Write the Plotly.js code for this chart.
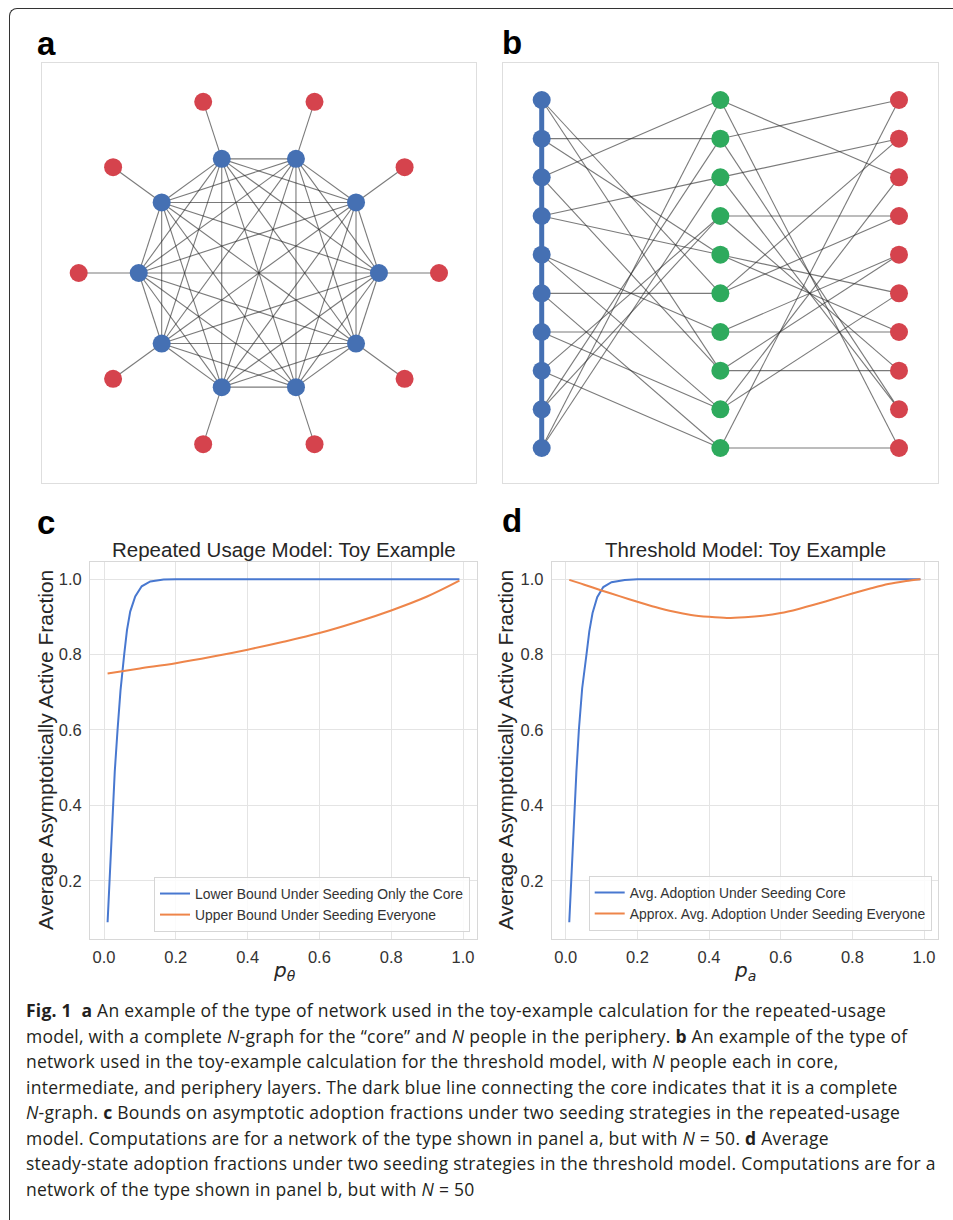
<!DOCTYPE html>
<html><head><meta charset="utf-8">
<script src="https://cdn.plot.ly/plotly-3.0.1.min.js"></script>
<style>
html,body{margin:0;padding:0;background:#fff;}
#wrap{position:relative;width:953px;height:1220px;overflow:hidden;background:#fff;}
#chart{position:absolute;left:0;top:0;width:953px;height:1220px;}
#frame{position:absolute;left:9px;top:8px;width:1000px;height:1300px;border-top:1.5px solid #333;border-left:1.5px solid #333;border-top-left-radius:8px;pointer-events:none;}
#caption{position:absolute;left:26px;top:998px;font-family:"Open Sans","Noto Sans",Lato,sans-serif;font-size:17.5px;letter-spacing:0.25px;line-height:25.5px;color:#231f20;white-space:nowrap;}
#caption b{font-weight:700;}
</style></head>
<body>
<div id="wrap">
<div id="chart"></div>
<div id="frame"></div>
<div id="caption">
<b>Fig. 1</b>&nbsp; <b>a</b> An example of the type of network used in the toy-example calculation for the repeated-usage<br>
model, with a complete <i>N</i>-graph for the “core” and <i>N</i> people in the periphery. <b>b</b> An example of the type of<br>
network used in the toy-example calculation for the threshold model, with <i>N</i> people each in core,<br>
intermediate, and periphery layers. The dark blue line connecting the core indicates that it is a complete<br>
<i>N</i>-graph. <b>c</b> Bounds on asymptotic adoption fractions under two seeding strategies in the repeated-usage<br>
model. Computations are for a network of the type shown in panel a, but with <i>N</i> = 50. <b>d</b> Average<br>
steady-state adoption fractions under two seeding strategies in the threshold model. Computations are for a<br>
network of the type shown in panel b, but with <i>N</i> = 50
</div>
</div>
<script>
// ---------------- data ----------------
var coreCount = 10;            // panel a: complete N-graph core, one periphery node per core node
var layerSize = 10;            // panel b: nodes per layer
var coreToMid = [[0,5],[0,7],[1,1],[1,4],[2,0],[2,7],[3,2],[3,4],[4,6],[4,8],
                 [5,5],[5,9],[6,6],[6,8],[7,9],[7,3],[8,1],[8,3],[9,0],[9,2]];
var midToPeri = [[0,2],[0,9],[1,0],[1,8],[2,1],[2,8],[3,3],[3,7],[4,5],[4,6],
                 [5,1],[5,3],[6,4],[6,6],[7,7],[7,4],[8,2],[8,5],[9,0],[9,9]];

var cCoreX = [0.01,0.0155,0.02,0.0247,0.03,0.0377,0.046,0.0562,0.064,0.073,0.087,0.105,0.129,0.166,0.2,0.4,0.6,0.8,0.99];
var cCoreY = [0.09,0.2,0.3,0.4,0.49,0.6,0.705,0.8,0.865,0.914,0.954,0.981,0.994,0.999,1.0,1.0,1.0,1.0,1.0];
var cAllX  = [0.01,0.1,0.2,0.3,0.4,0.5,0.6,0.7,0.8,0.9,0.99];
var cAllY  = [0.750,0.763,0.777,0.794,0.813,0.834,0.857,0.885,0.917,0.954,0.996];

var dCoreX = [0.01,0.0154,0.02,0.0247,0.03,0.0368,0.046,0.058,0.066,0.075,0.088,0.105,0.128,0.165,0.2,0.4,0.6,0.8,0.99];
var dCoreY = [0.09,0.2,0.3,0.4,0.49,0.6,0.71,0.8,0.862,0.91,0.952,0.979,0.992,0.998,1.0,1.0,1.0,1.0,1.0];
var dAllX  = [0.01,0.05,0.1,0.15,0.2,0.25,0.3,0.35,0.4,0.45,0.5,0.55,0.6,0.65,0.7,0.75,0.8,0.85,0.9,0.95,0.99];
var dAllY  = [0.998,0.986,0.970,0.955,0.940,0.926,0.914,0.905,0.900,0.897,0.899,0.903,0.910,0.921,0.934,0.948,0.962,0.975,0.987,0.995,1.0];

var tickVals = [0,0.2,0.4,0.6,0.8,1.0];
var yTickVals = [0.2,0.4,0.6,0.8,1.0];
var cNames = ['Lower Bound Under Seeding Only the Core','Upper Bound Under Seeding Everyone'];
var dNames = ['Avg. Adoption Under Seeding Core','Approx. Avg. Adoption Under Seeding Everyone'];

// ---------------- build ----------------
var W = 953, H = 1220;
var BLUE = '#4570b3', RED = '#d5434d', GREEN = '#2eaa5d';
var LBLUE = '#4878d0', LORANGE = '#ee854a';
var EDGE = 'rgba(40,40,40,0.62)';

// panel a circular layout
var cx = [], cy = [], px = [], py = [];
for (var k = 0; k < coreCount; k++) {
  var t = 2*Math.PI*k/coreCount;
  cx.push(Math.cos(t)); cy.push(Math.sin(t));
  px.push(1.5*Math.cos(t)); py.push(1.5*Math.sin(t));
}
var ax = [], ay = [];
for (var i = 0; i < coreCount; i++) {
  for (var j = i+1; j < coreCount; j++) { ax.push(cx[i], cx[j], null); ay.push(cy[i], cy[j], null); }
  ax.push(cx[i], px[i], null); ay.push(cy[i], py[i], null);
}
// panel b layered layout
var rows = []; for (var r = 0; r < layerSize; r++) rows.push(r);
function col(v){ var a=[]; for (var r=0;r<layerSize;r++) a.push(v); return a; }
var bx = [], by = [];
coreToMid.forEach(function(e){ bx.push(0,1,null); by.push(e[0],e[1],null); });
midToPeri.forEach(function(e){ bx.push(1,2,null); by.push(e[0],e[1],null); });

var traces = [
  {x:ax, y:ay, xaxis:'x', yaxis:'y', mode:'lines', line:{color:EDGE,width:1.1}, hoverinfo:'skip', showlegend:false},
  {x:px, y:py, xaxis:'x', yaxis:'y', mode:'markers', marker:{color:RED,size:18}, showlegend:false},
  {x:cx, y:cy, xaxis:'x', yaxis:'y', mode:'markers', marker:{color:BLUE,size:18}, showlegend:false},
  {x:bx, y:by, xaxis:'x2', yaxis:'y2', mode:'lines', line:{color:EDGE,width:1.1}, hoverinfo:'skip', showlegend:false},
  {x:[0,0], y:[0,layerSize-1], xaxis:'x2', yaxis:'y2', mode:'lines', line:{color:BLUE,width:5}, showlegend:false},
  {x:col(0), y:rows, xaxis:'x2', yaxis:'y2', mode:'markers', marker:{color:BLUE,size:18}, showlegend:false},
  {x:col(1), y:rows, xaxis:'x2', yaxis:'y2', mode:'markers', marker:{color:GREEN,size:18}, showlegend:false},
  {x:col(2), y:rows, xaxis:'x2', yaxis:'y2', mode:'markers', marker:{color:RED,size:18}, showlegend:false},
  {x:cCoreX, y:cCoreY, xaxis:'x3', yaxis:'y3', mode:'lines', name:cNames[0], line:{color:LBLUE,width:2}, legend:'legend'},
  {x:cAllX, y:cAllY, xaxis:'x3', yaxis:'y3', mode:'lines', name:cNames[1], line:{color:LORANGE,width:2, shape:'spline'}, legend:'legend'},
  {x:dCoreX, y:dCoreY, xaxis:'x4', yaxis:'y4', mode:'lines', name:dNames[0], line:{color:LBLUE,width:2}, legend:'legend2'},
  {x:dAllX, y:dAllY, xaxis:'x4', yaxis:'y4', mode:'lines', name:dNames[1], line:{color:LORANGE,width:2, shape:'spline', smoothing:0.8}, legend:'legend2'}
];

function px2x(p){ return p/W; }
function px2y(p){ return 1 - p/H; }
var FONT = 'Liberation Sans, Arial, sans-serif';

function netAxis(dom, range, anchor){
  return {domain:dom, range:range, anchor:anchor, showline:true, mirror:true, linecolor:'#dedede', linewidth:1,
          showgrid:false, zeroline:false, showticklabels:false, ticks:'', fixedrange:true};
}
function plotX(dom, anchor){
  return {domain:dom, anchor:anchor, range:[-0.039,1.039], tickvals:tickVals, tickformat:'.1f',
          showline:true, mirror:true, linecolor:'#d8d8d8', linewidth:1, showgrid:true, gridcolor:'#e4e4e4', gridwidth:1,
          zeroline:false, ticks:'outside', ticklen:3, tickcolor:'rgba(0,0,0,0)',
          tickfont:{family:FONT, size:16.5, color:'#333'}};
}
function plotY(dom, anchor){
  return {domain:dom, anchor:anchor, range:[0.0455,1.0455], tickvals:yTickVals, tickformat:'.1f',
          showline:true, mirror:true, linecolor:'#d8d8d8', linewidth:1, showgrid:true, gridcolor:'#e4e4e4', gridwidth:1,
          zeroline:false, ticks:'outside', ticklen:4, tickcolor:'rgba(0,0,0,0)',
          tickfont:{family:FONT, size:16.5, color:'#333'}};
}
function legendAt(xr, yb){
  return {x:px2x(xr), y:px2y(yb), xanchor:'right', yanchor:'bottom', xref:'paper', yref:'paper',
          bgcolor:'rgba(255,255,255,0.85)', bordercolor:'#d6d6d6', borderwidth:1,
          font:{family:FONT, size:13.9, color:'#333'}, tracegroupgap:0};
}
function ann(text, xp, yp, opt){
  var a = {text:text, x:px2x(xp), y:px2y(yp), xref:'paper', yref:'paper', showarrow:false,
           xanchor:'center', yanchor:'middle', font:{family:FONT, size:21, color:'#262626'}};
  for (var k in (opt||{})) a[k] = opt[k];
  return a;
}
var labFont = {family:'Liberation Sans, Arial, sans-serif', size:33, color:'#000'};
var yTitle = 'Average Asymptotically Active Fraction';
var pFont = {family:'DejaVu Sans, sans-serif', size:20, color:'#262626'};

var layout = {
  width:W, height:H, margin:{l:0,r:0,t:0,b:0}, paper_bgcolor:'rgba(0,0,0,0)', plot_bgcolor:'#fff',
  showlegend:true,
  xaxis: netAxis([px2x(41.7), px2x(476)], [-1.808,1.808], 'y'),
  yaxis: netAxis([px2y(483), px2y(63)], [-1.75,1.75], 'x'),
  xaxis2: netAxis([px2x(503), px2x(937.7)], [-0.2166,2.2166], 'y2'),
  yaxis2: netAxis([px2y(483), px2y(63)], [9.905,-0.957], 'x2'),
  xaxis3: plotX([px2x(90), px2x(477)], 'y3'),
  yaxis3: plotY([px2y(939), px2y(562)], 'x3'),
  xaxis4: plotX([px2x(551.7), px2x(938)], 'y4'),
  yaxis4: plotY([px2y(939), px2y(562)], 'x4'),
  legend: legendAt(470, 932),
  legend2: legendAt(931.7, 931),
  annotations: [
    ann('<b>a</b>', 46, 44, {font:labFont}),
    ann('<b>b</b>', 512, 42, {font:labFont}),
    ann('<b>c</b>', 46, 522, {font:labFont}),
    ann('<b>d</b>', 512, 520, {font:labFont}),
    ann('Repeated Usage Model: Toy Example', 283.5, 550, {font:{family:FONT,size:20.5,color:'#262626'}}),
    ann('Threshold Model: Toy Example', 745, 549, {font:{family:FONT,size:20.5,color:'#262626'}}),
    ann(yTitle, 45, 750, {textangle:-90}),
    ann(yTitle, 505, 750, {textangle:-90}),
    ann('<i>p</i><sub><i>θ</i></sub>', 284, 971, {font:pFont}),
    ann('<i>p</i><sub><i>a</i></sub>', 745, 971, {font:pFont})
  ]
};
Plotly.newPlot('chart', traces, layout, {staticPlot:true, displayModeBar:false});
</script>
</body></html>
